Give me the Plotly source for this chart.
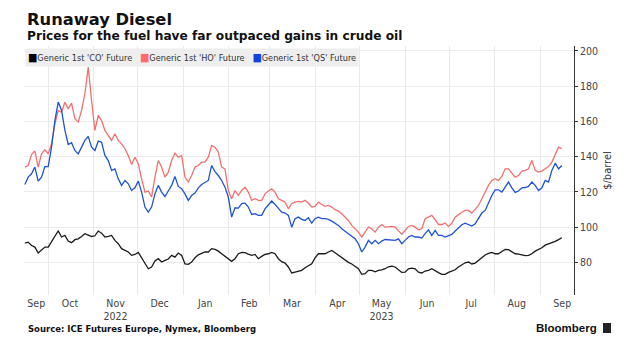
import pandas as pd
import plotly.graph_objects as go

# ---------------- data ----------------
series_names = ["Generic 1st 'CO' Future", "Generic 1st 'HO' Future", "Generic 1st 'QS' Future"]
series_colors = ["#1a1a1a", "#f27070", "#1f52d6"]
legend_colors = ["#000000", "#ff6b6b", "#1144dd"]

co = [91.0, 91.5, 89.6, 88.7, 85.3, 87.2, 88.7, 88.7, 91.9, 94.9,
      97.8, 94.4, 95.3, 92.1, 91.2, 92.9, 93.4, 94.7, 96.3, 95.5,
      94.7, 95.1, 97.8, 96.6, 94.4, 94.7, 95.3, 92.5, 90.6, 87.8,
      86.8, 85.9, 84.0, 84.5, 85.7, 82.6, 78.7, 76.4, 77.4, 80.8,
      82.1, 80.2, 81.1, 81.9, 84.0, 83.0, 85.3, 84.0, 79.2, 78.9,
      80.2, 82.6, 84.3, 85.3, 85.9, 85.9, 87.8, 87.4, 86.4, 84.9,
      83.6, 82.1, 80.6, 82.1, 84.9, 85.7, 85.5, 84.7, 84.0, 84.5,
      82.1, 83.4, 84.5, 84.9, 85.7, 84.9, 82.1, 80.4, 79.6, 77.4,
      74.0, 74.5, 75.1, 75.5, 77.0, 77.9, 79.2, 82.6, 84.9, 84.9,
      84.9, 85.9, 86.8, 85.5, 84.0, 82.5, 81.1, 80.0, 79.1, 77.9,
      76.4, 73.2, 73.6, 75.5, 75.5, 74.7, 75.5, 75.8, 76.4, 77.5,
      77.9, 77.4, 75.8, 74.3, 74.5, 76.4, 76.8, 76.4, 74.5, 74.0,
      75.1, 75.5, 76.4, 75.5, 74.2, 73.2, 73.2, 74.3, 74.9, 75.8,
      77.4, 78.7, 79.8, 80.2, 79.1, 79.6, 81.1, 82.6, 84.2, 85.1,
      85.7, 84.9, 84.9, 86.2, 87.4, 87.2, 85.9, 84.9, 84.7, 84.3,
      83.8, 84.0, 84.9, 86.4, 87.4, 88.3, 89.8, 90.4, 91.0, 91.9,
      92.9, 94.0]

ho = [134.1, 135.0, 141.2, 143.3, 134.1, 141.6, 143.9, 141.6, 147.3, 158.6,
      166.2, 165.3, 170.9, 167.1, 170.4, 161.5, 159.6, 166.2, 175.7, 190.8,
      171.9, 154.9, 163.4, 160.5, 154.9, 152.0, 149.2, 153.0, 149.2, 147.3,
      144.5, 140.7, 135.6, 139.7, 136.0, 127.4, 119.9, 120.5, 117.1, 128.4,
      137.8, 134.1, 128.4, 131.2, 137.8, 142.0, 139.7, 140.7, 128.4, 125.6,
      129.3, 134.1, 135.0, 136.9, 136.9, 139.7, 146.4, 145.4, 142.6, 134.1,
      133.1, 120.8, 116.1, 120.8, 118.0, 120.8, 122.7, 119.9, 115.2, 116.1,
      115.2, 115.2, 118.9, 120.5, 121.8, 119.9, 116.1, 115.2, 114.2, 110.4,
      113.3, 114.2, 114.6, 114.2, 115.2, 113.7, 111.4, 111.8, 114.2, 112.9,
      111.8, 112.3, 111.4, 109.9, 109.1, 107.6, 105.7, 103.8, 101.0, 99.1,
      97.2, 94.4, 97.2, 100.0, 99.1, 97.2, 100.0, 101.5, 100.0, 100.4,
      100.4, 100.0, 98.1, 95.9, 98.1, 100.4, 101.0, 100.0, 98.5, 99.1,
      104.8, 105.7, 106.7, 104.2, 101.5, 101.5, 102.3, 100.4, 102.3, 105.7,
      107.2, 108.5, 109.5, 109.5, 108.0, 110.4, 112.3, 116.1, 119.9, 123.7,
      126.5, 127.4, 126.5, 128.8, 133.1, 133.1, 130.7, 128.4, 129.3, 131.8,
      132.2, 133.1, 137.9, 132.2, 131.2, 131.8, 133.1, 134.4, 136.9, 141.2,
      145.4, 144.5]

qs = [124.2, 128.4, 130.3, 134.1, 126.1, 128.4, 134.4, 134.4, 145.4, 160.5,
      171.0, 166.2, 155.0, 146.9, 147.9, 143.5, 141.6, 145.4, 149.2, 151.5,
      145.4, 143.5, 148.8, 148.2, 140.7, 137.8, 132.2, 133.1, 127.4, 123.7,
      126.5, 124.6, 120.8, 122.3, 126.1, 119.9, 111.4, 108.5, 111.4, 118.9,
      123.7, 119.9, 117.4, 120.5, 123.7, 128.8, 123.1, 121.8, 118.9, 115.2,
      118.0, 119.3, 122.3, 124.2, 125.6, 126.5, 135.0, 131.5, 129.3, 126.5,
      122.7, 117.1, 105.7, 111.0, 110.8, 113.3, 113.6, 111.4, 107.2, 107.6,
      106.7, 106.7, 110.4, 112.9, 114.8, 112.9, 110.4, 108.5, 108.0, 106.7,
      100.0, 104.8, 105.7, 104.4, 103.8, 105.3, 102.3, 104.8, 105.7, 104.8,
      104.8, 104.4, 103.4, 102.3, 101.0, 99.1, 97.8, 96.3, 94.7, 93.4,
      90.6, 85.9, 88.7, 92.5, 90.6, 92.5, 90.6, 92.1, 93.0, 92.9,
      92.9, 92.5, 93.4, 90.6, 92.5, 94.4, 95.3, 94.4, 94.4, 93.8,
      96.3, 98.5, 95.3, 98.1, 95.3, 95.3, 94.4, 95.1, 95.9, 97.8,
      99.7, 101.4, 102.3, 101.5, 100.6, 101.9, 105.3, 108.0, 109.5, 114.2,
      118.0, 121.2, 121.2, 119.9, 123.1, 125.6, 122.3, 119.7, 120.5, 122.3,
      122.5, 123.1, 125.6, 123.7, 120.8, 122.3, 126.5, 125.6, 132.2, 136.3,
      133.1, 135.0]

# sampling dates of the readings (about every 2.3 days)
dates = pd.date_range("2022-09-15 06:00", "2023-09-15 18:00", periods=len(co))

month_tick_dates = ["2022-09-23", "2022-10-16", "2022-11-16", "2022-12-16", "2023-01-16",
                    "2023-02-15", "2023-03-16", "2023-04-16", "2023-05-16", "2023-06-16",
                    "2023-07-16", "2023-08-16", "2023-09-16"]
month_tick_labels = ["Sep", "Oct", "Nov<br>2022", "Dec", "Jan", "Feb", "Mar", "Apr",
                     "May<br>2023", "Jun", "Jul", "Aug", "Sep"]
y_tick_values = [80, 100, 120, 140, 160, 180, 200]

title_text = "Runaway Diesel"
subtitle_text = "Prices for the fuel have far outpaced gains in crude oil"
source_text = "Source: ICE Futures Europe, Nymex, Bloomberg"
unit_text = "$/barrel"

# ---------------- layout geometry ----------------
W_PX, H_PX = 639, 354
L, R, T, B = 24, 65, 46, 59
PW, PH = W_PX - L - R, H_PX - T - B

def px_x(px):
    return (px - L) / PW

def px_y(py):
    return (T + PH - py) / PH

FONT = "DejaVu Sans Condensed, DejaVu Sans, sans-serif"
BOLD = "DejaVu Sans, sans-serif"

fig = go.Figure()
for name, vals, col in zip(series_names, [co, ho, qs], series_colors):
    fig.add_trace(go.Scatter(x=dates, y=vals, name=name, mode="lines",
                             line=dict(color=col, width=1.3), showlegend=False))

fig.add_hline(y=80, line=dict(color="#b5b5b5", width=1, dash="dot"), layer="below")

legend_html = "\u00a0\u00a0\u00a0".join(
    f"<span style='color:{c};font-size:11px'>■</span>{n}" for n, c in zip(series_names, legend_colors))

annotations = [
    dict(text=f"<b>{title_text}</b>", x=px_x(25), y=px_y(19.5), xref="paper", yref="paper",
         xanchor="left", yanchor="middle", showarrow=False,
         font=dict(family=BOLD, size=16.3, color="#111111")),
    dict(text=f"<b>{subtitle_text}</b>", x=px_x(25), y=px_y(36), xref="paper", yref="paper",
         xanchor="left", yanchor="middle", showarrow=False,
         font=dict(family=BOLD, size=12.2, color="#111111")),
    dict(text=legend_html, x=px_x(25), y=px_y(47.5), xref="paper", yref="paper",
         xanchor="left", yanchor="top", showarrow=False, bgcolor="#eeeeee", borderpad=2,
         font=dict(family=FONT, size=9.1, color="#333333")),
    dict(text=f"<b>{source_text}</b>", x=px_x(26), y=px_y(329), xref="paper", yref="paper",
         xanchor="left", yanchor="middle", showarrow=False,
         font=dict(family=BOLD, size=8.5, color="#111111")),
    dict(text="<b>Bloomberg</b>", x=px_x(599), y=px_y(328), xref="paper", yref="paper",
         xanchor="right", yanchor="middle", showarrow=False,
         font=dict(family="Liberation Sans, Arial, sans-serif", size=11.5, color="#111111")),
]

shapes = [
    dict(type="rect", xref="paper", yref="paper", x0=px_x(603), x1=px_x(611),
         y0=px_y(333), y1=px_y(323), fillcolor="#222222", line=dict(width=0)),
]

fig.update_layout(
    width=W_PX, height=H_PX,
    margin=dict(l=L, r=R, t=T, b=B),
    paper_bgcolor="white", plot_bgcolor="white",
    font=dict(family=FONT, size=10.5, color="#444444"),
    showlegend=False,
    annotations=annotations,
    shapes=shapes,
    xaxis=dict(
        type="date",
        range=["2022-09-14 16:00", "2023-09-24"],
        tickmode="array", tickvals=month_tick_dates, ticktext=month_tick_labels,
        showgrid=False, zeroline=False, showline=False, ticks="",
        tickfont=dict(family=FONT, size=10.5, color="#444444"),
        minor=dict(dtick="M1", tick0="2022-09-01", showgrid=True,
                   gridcolor="#e9e9e9", gridwidth=1, ticks=""),
    ),
    yaxis=dict(
        side="right",
        range=[61.5, 202.8],
        tickmode="array", tickvals=y_tick_values,
        showgrid=True, gridcolor="#ececec", gridwidth=1, zeroline=False,
        showline=True, linecolor="#333333", linewidth=1,
        ticks="outside", ticklen=3, tickcolor="#333333",
        tickfont=dict(family=FONT, size=10.5, color="#444444"),
        title=dict(text=unit_text, standoff=6,
                   font=dict(family=FONT, size=11, color="#333333")),
    ),
)

fig.write_html("out.html")
